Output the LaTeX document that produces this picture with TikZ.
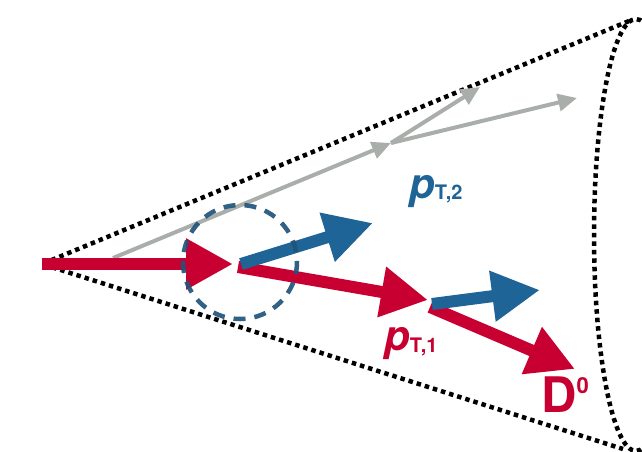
\documentclass[tikz,border=0pt]{standalone}
\usepackage{fontspec}
\setmainfont{TeX Gyre Heros}
\usetikzlibrary{arrows.meta}
\definecolor{myred}{RGB}{200,0,50}
\definecolor{myblue}{RGB}{30,100,150}
\definecolor{circblue}{RGB}{32,84,122}
\definecolor{mygray}{RGB}{170,174,170}
\begin{document}
\begin{tikzpicture}[x=1pt,y=-1pt,
  conestyle/.style={line width=4.5pt, dash pattern=on 4.5pt off 4pt},
  redarr/.style={myred, line width=12pt, -{Triangle[length=47pt,width=48pt]}},
  bluearr/.style={myblue, line width=12pt, -{Triangle[length=48pt,width=48pt]}},
  grayarr/.style={mygray, line width=4pt, -{Triangle[length=19pt,width=17pt]}},
  lbl/.style={inner sep=0pt, anchor=base west, font=\bfseries}
]
\useasboundingbox (0,0) rectangle (642,451);
% points
\coordinate (apex) at (42,264);
\coordinate (ctop) at (629,21);
\coordinate (cbot) at (623,449);
\coordinate (g0) at (113,258);
\coordinate (g1) at (391,143);
\coordinate (g2) at (480,87);
\coordinate (g3) at (577,98);
\coordinate (r1) at (233,264);
\coordinate (r2s) at (238,267);
\coordinate (r2) at (428,300);
\coordinate (r3s) at (430,307);
\coordinate (r3) at (575,369);
\coordinate (b1s) at (241,264);
\coordinate (b1) at (373,223);
\coordinate (b2s) at (432,304);
\coordinate (b2) at (540,290);
% cone
\draw[conestyle] (ctop) -- (apex) -- (cbot);
\draw[conestyle] (636,235) ellipse [x radius=42, y radius=216];
% gray tracks
\draw[grayarr] (g0) -- (g1);
\draw[grayarr] (g1) -- (g2);
\draw[grayarr] (g1) -- (g3);
% red
\draw[redarr] (apex) -- (r1);
\draw[redarr] (r2s) -- (r2);
\draw[redarr] (r3s) -- (r3);
% blue
\draw[bluearr] (b1s) -- (b1);
\draw[bluearr] (b2s) -- (b2);
% dashed circle
\draw[circblue, opacity=0.92, line width=4.5pt, dash pattern=on 12pt off 9pt] (240,262) circle [radius=57];
% labels
\node[lbl, text=myblue] (pt2) at (409,198) {{\fontsize{42}{42}\selectfont\itshape p}\raisebox{-1pt}{\fontsize{20}{20}\selectfont T,2}};
\node[lbl, text=myred] (pt1) at (384,350) {{\fontsize{42}{42}\selectfont\itshape p}\raisebox{-2pt}{\fontsize{20}{20}\selectfont T,1}};
\node[lbl, text=myred] (d0) at (541,412) {{\fontsize{49}{49}\selectfont D}\raisebox{19pt}{\fontsize{22}{22}\selectfont 0}};
\end{tikzpicture}
\end{document}
